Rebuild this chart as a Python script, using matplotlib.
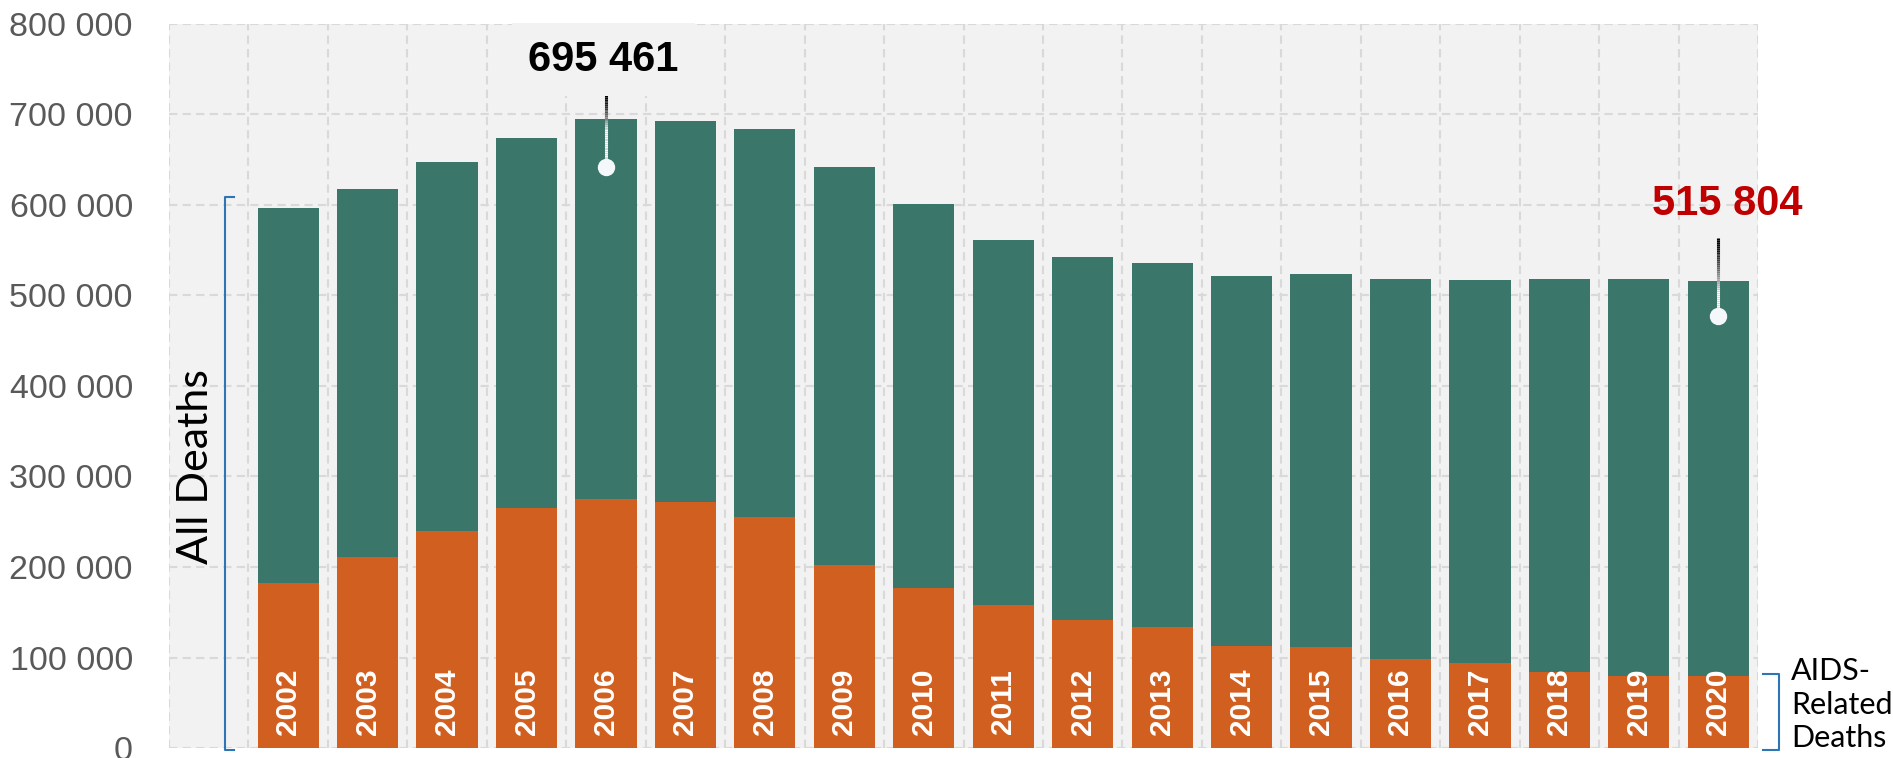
import numpy as np
import matplotlib
matplotlib.use('Agg')
import matplotlib.pyplot as plt
from matplotlib.collections import LineCollection

# data
years = list(range(2002, 2021))
all_deaths = [597000, 618000, 647000, 674000, 695461, 693000, 684000, 642000, 601000, 561000,
              542000, 535500, 521000, 524000, 518600, 517500, 518000, 518000, 515804]
aids_deaths = [182700, 211000, 240000, 265000, 275000, 272000, 255500, 202500, 177000, 158400,
               141000, 134000, 113000, 112000, 98000, 93400, 83500, 79400, 79400]
y_ticks = list(range(0, 800001, 100000))

green = '#3A766A'
orange = '#D16020'
bg = '#F2F2F2'
blue = '#2E75B6'

fig = plt.figure(figsize=(18.93, 7.58), dpi=100)
ax = fig.add_axes([169 / 1893, 10 / 758, (1758 - 169) / 1893, (747 - 23) / 758])
ax.set_facecolor(bg)

x = np.arange(len(years))
ax.bar(x, all_deaths, width=0.77, color=green, zorder=2)
ax.bar(x, aids_deaths, width=0.77, color=orange, zorder=3)

# year labels inside the orange bars
for xi, yr in zip(x, years):
    ax.text(xi, 51000, str(yr), rotation=90, ha='center', va='center', color='white',
            fontsize=21.5, fontweight='bold', family='Liberation Sans', zorder=4)

ax.set_xlim(-1.5, 18.5)
ax.set_ylim(0, 800000)
ax.set_yticks(y_ticks)
ax.set_yticklabels(['{:,}'.format(v).replace(',', ' ') for v in y_ticks])
ax.set_xticks(np.arange(-1.5, 18.6, 1.0))
ax.set_xticklabels([])
ax.tick_params(axis='both', length=0)
ax.tick_params(axis='y', pad=26, labelsize=24.5, labelcolor='#595959')
for lab in ax.get_yticklabels():
    lab.set_family('Liberation Sans')
ax.grid(True, color='#D9D9D9', linestyle=(0, (4, 2.5)), linewidth=1.5)
ax.set_axisbelow(True)
for s in ax.spines.values():
    s.set_visible(False)


def callout(i, label, color, text_dx, text_off, line_top_off, dot_off, box):
    total = all_deaths[i]
    top = total + line_top_off
    dot = total - dot_off
    fade_end = total - 12000
    # line fading from black at the top to white just under the bar top
    n = 40
    ys = np.linspace(top, dot, n + 1)
    segs = [[(i, ys[k]), (i, ys[k + 1])] for k in range(n)]
    cols = []
    for k in range(n):
        ym = 0.5 * (ys[k] + ys[k + 1])
        f = np.clip((top - ym) / (top - fade_end), 0, 1) ** 1.6
        cols.append((f, f, f))
    ax.add_collection(LineCollection(segs, colors=cols, linewidths=2.2, zorder=5))
    ax.plot(i, dot, 'o', color='#F5F8FA', markersize=11.5, zorder=6)
    kw = dict(ha='center', va='center', fontsize=30, fontweight='bold', color=color,
              family='Liberation Sans', zorder=7, clip_on=False)
    if box:
        kw['bbox'] = dict(boxstyle='square,pad=0.4', facecolor=bg, edgecolor='none')
    ax.text(i + text_dx, total + text_off, label, **kw)


callout(4, '695 461', 'black', -0.03, 65000, 26000, 54000, True)
callout(18, '515 804', '#C00000', 0.11, 85000, 48000, 39000, False)

# "All Deaths" bracket
bx = -0.79
ax.plot([bx + 0.11, bx, bx, bx + 0.11], [609000, 609000, -2000, -2000], color=blue,
        linewidth=1.5, clip_on=False, zorder=5)
ax.text(-1.16, 311000, 'All Deaths', rotation=90, ha='center', va='center', fontsize=31,
        family='Lato', color='black')

# "AIDS-Related Deaths" bracket
rx = 18.76
ax.plot([rx - 0.2, rx, rx, rx - 0.2], [82000, 82000, -2000, -2000], color=blue,
        linewidth=1.5, clip_on=False, zorder=5)
ax.text(18.92, 48000, 'AIDS-\nRelated\nDeaths', ha='left', va='center', fontsize=22,
        family='Lato', color='black', linespacing=1.22, clip_on=False)

fig.savefig('out.png', dpi=100)
